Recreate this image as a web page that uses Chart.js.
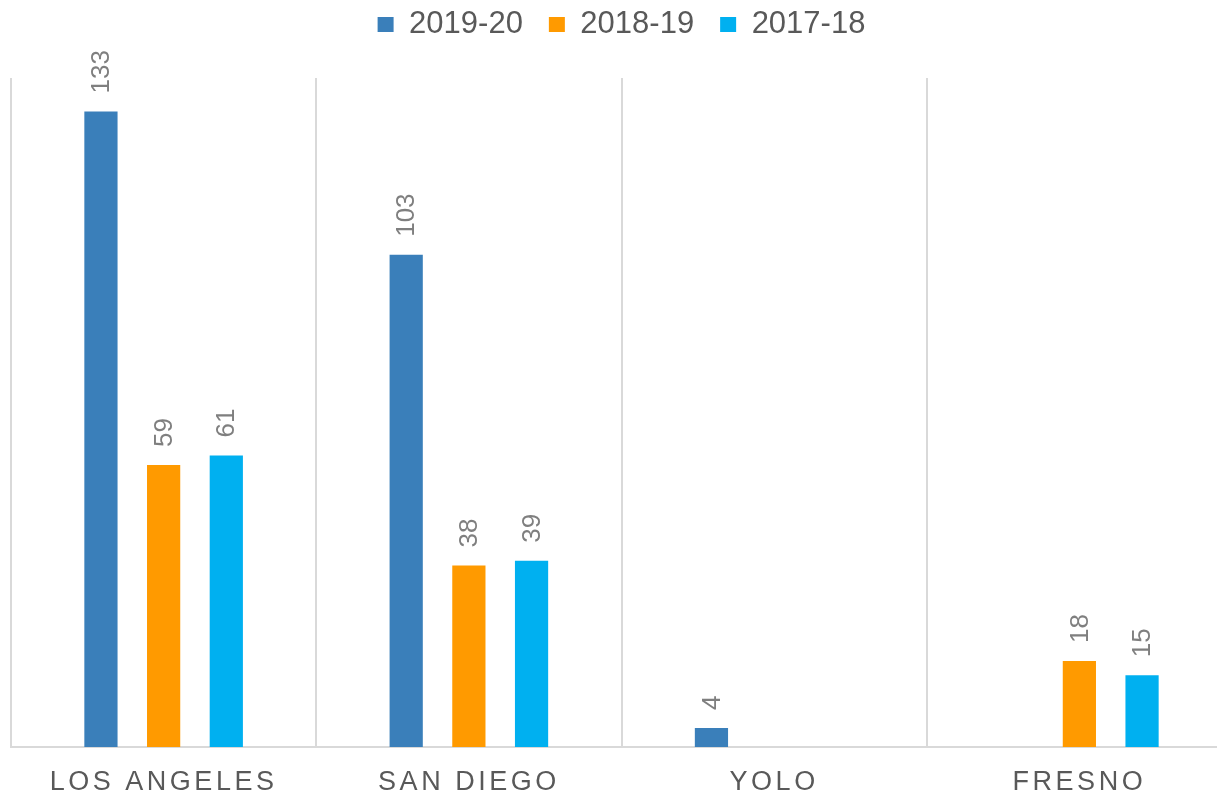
<!DOCTYPE html>
<html>
<head>
<meta charset="utf-8">
<script src="https://cdn.jsdelivr.net/npm/chart.js@4"></script>
<style>
  html, body { margin: 0; padding: 0; background: #ffffff; overflow: hidden; }
  #wrap { position: absolute; left: 0; top: 0; width: 1243px; height: 798px; }
</style>
</head>
<body>
<div id="wrap"><canvas id="c" width="1243" height="798"></canvas></div>
<script>
const categories = ['LOS ANGELES', 'SAN DIEGO', 'YOLO', 'FRESNO'];
const seriesNames = ['2019-20', '2018-19', '2017-18'];
const values2019_20 = [133, 103, 4, null];
const values2018_19 = [59, 38, null, 18];
const values2017_18 = [61, 39, null, 15];
const seriesColors = ['#3A7FBA', '#FF9A00', '#00B0F0'];

const TEXT_GREY = '#595959';
const LABEL_GREY = '#7F7F7F';
const FONT = "'Liberation Sans', Arial, sans-serif";

const valueLabels = {
  id: 'valueLabels',
  afterDatasetsDraw(chart) {
    const ctx = chart.ctx;
    ctx.save();
    ctx.font = '26px ' + FONT;
    ctx.fillStyle = LABEL_GREY;
    ctx.textAlign = 'left';
    ctx.textBaseline = 'middle';
    chart.data.datasets.forEach((ds, di) => {
      const meta = chart.getDatasetMeta(di);
      meta.data.forEach((el, i) => {
        const v = ds.data[i];
        if (v === null || v === undefined) return;
        ctx.save();
        ctx.translate(el.x + 1, el.y - 18);
        ctx.rotate(-Math.PI / 2);
        ctx.fillText(String(v), 0, 0);
        ctx.restore();
      });
    });
    ctx.restore();
    // letter spacing for x-axis labels (drawn on a later layer)
    ctx.letterSpacing = '3.5px';
  },
  afterDraw(chart) {
    chart.ctx.letterSpacing = '0px';
  }
};

const legendSpacer = {
  id: 'legendSpacer',
  beforeInit(chart) {
    const fit = chart.legend.fit;
    chart.legend.fit = function () {
      fit.call(this);
      this.height = 95;
    };
  }
};

new Chart(document.getElementById('c'), {
  type: 'bar',
  data: {
    labels: categories,
    datasets: [
      { label: seriesNames[0], data: values2019_20, backgroundColor: seriesColors[0] },
      { label: seriesNames[1], data: values2018_19, backgroundColor: seriesColors[1] },
      { label: seriesNames[2], data: values2017_18, backgroundColor: seriesColors[2] }
    ]
  },
  options: {
    responsive: false,
    animation: false,
    devicePixelRatio: 1,
    layout: { padding: { left: 11, right: 11, top: -17, bottom: -19.4 } },
    datasets: {
      bar: { categoryPercentage: 0.616, barPercentage: 0.53, borderWidth: 0 }
    },
    plugins: {
      legend: {
        position: 'top',
        labels: {
          color: TEXT_GREY,
          font: { family: FONT, size: 31 },
          boxWidth: 16,
          boxHeight: 15,
          padding: 26
        }
      },
      tooltip: { enabled: false }
    },
    scales: {
      x: {
        grid: { color: '#D9D9D9', lineWidth: 2, drawTicks: false, offset: true },
        border: { color: '#D9D9D9', width: 2 },
        ticks: {
          color: TEXT_GREY,
          font: { family: FONT, size: 27 },
          padding: 19,
          maxRotation: 0,
          autoSkip: false,
          z: 1
        }
      },
      y: {
        display: false,
        min: 0,
        max: 140
      }
    }
  },
  plugins: [legendSpacer, valueLabels]
});
</script>
</body>
</html>
